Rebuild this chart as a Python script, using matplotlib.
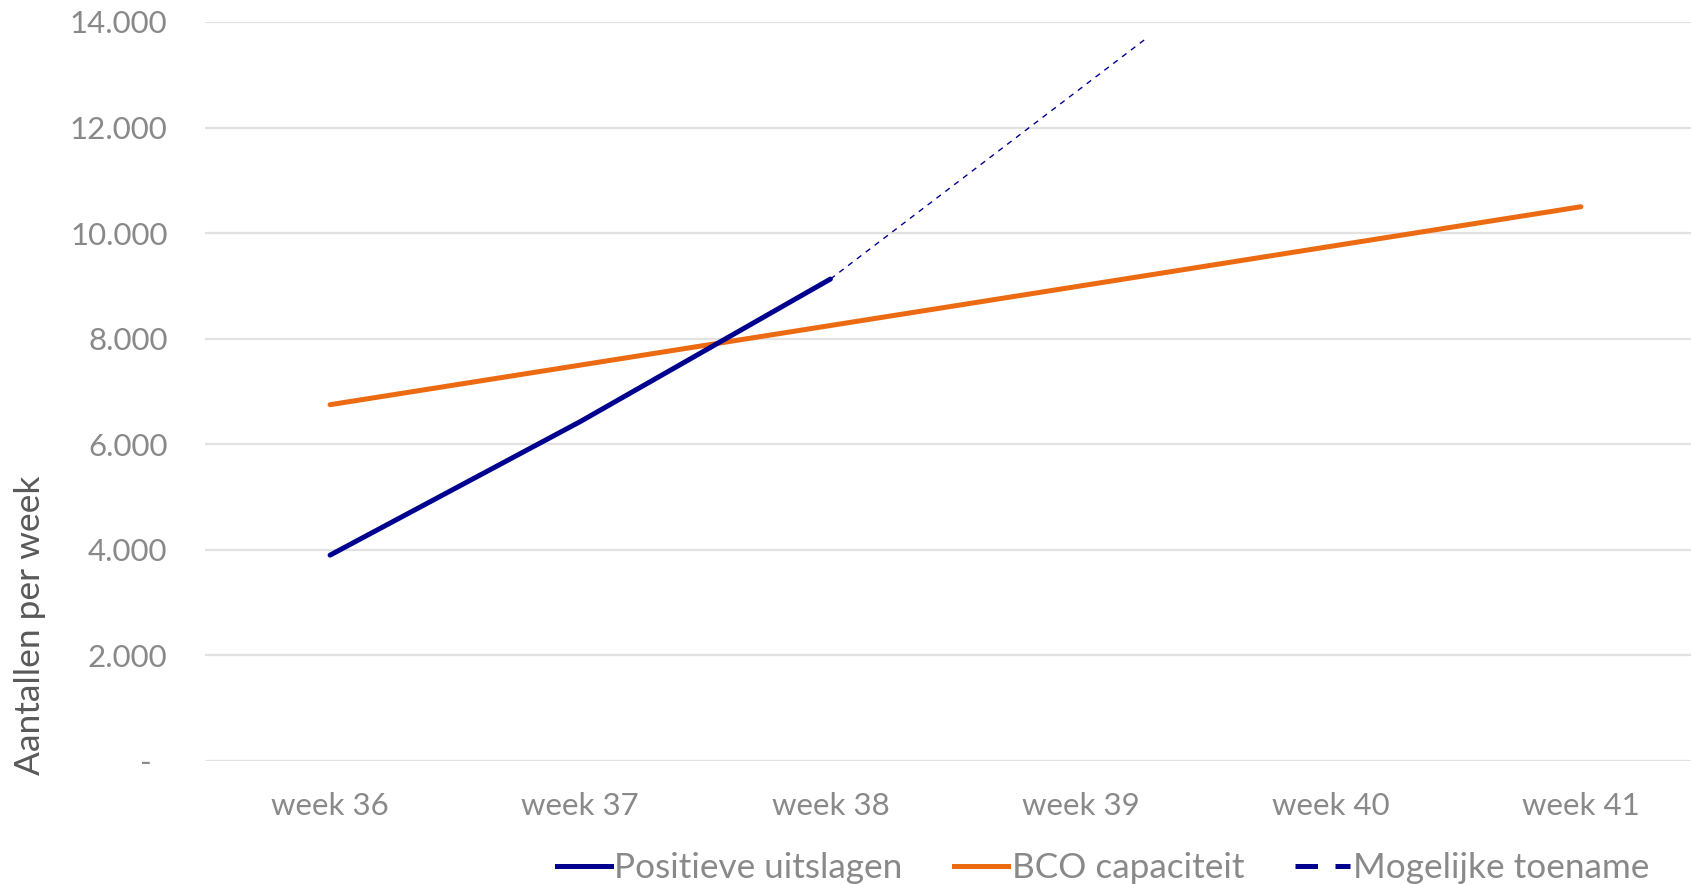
"""
Positieve uitslagen vs BCO capaciteit per week.
"""

import matplotlib
matplotlib.use("Agg")
import matplotlib.pyplot as plt
import matplotlib.ticker as mticker
from matplotlib.lines import Line2D

# ---------------------------------------------------------------------------
# Data
# ---------------------------------------------------------------------------

weeks = ["week 36", "week 37", "week 38", "week 39", "week 40", "week 41"]
positief = [3900, 6430, 9130]
bco_capaciteit = [6750, 7500, 8250, 9000, 9750, 10500]
# dashed extrapolation: starts at week 38, ends a bit past week 39
toename_x = [2, 3.26]
toename_y = [9130, 13680]

BLUE = "#00008f"
ORANGE = "#ec6a12"
GREY_TXT = "#898989"
GRID = "#e2e2e2"

plt.rcParams["font.family"] = ["Lato", "DejaVu Sans"]

# ---------------------------------------------------------------------------
# Plot
# ---------------------------------------------------------------------------

fig = plt.figure(figsize=(16.91, 8.84), dpi=100)
ax = fig.add_axes([205 / 1691, 1 - 761 / 884, 1501 / 1691, (761 - 22) / 884])

x = list(range(len(weeks)))
ax.plot(x[:len(positief)], positief, color=BLUE, lw=3.6,
        solid_capstyle="round", zorder=3)
ax.plot(x, bco_capaciteit, color=ORANGE, lw=3.6,
        solid_capstyle="round", zorder=2)
ax.plot(toename_x, toename_y, color=BLUE, lw=1.0, dashes=(4, 4), zorder=3)

ax.set_xlim(-0.5, len(weeks) - 0.5)
ax.set_ylim(0, 14000)
ax.set_xticks(x)
ax.set_xticklabels(weeks)
ax.yaxis.set_major_locator(mticker.MultipleLocator(2000))
ax.yaxis.set_major_formatter(mticker.FuncFormatter(
    lambda v, _: "-  " if v == 0 else f"{int(v):,}".replace(",", ".")))

ax.grid(axis="y", color=GRID, lw=1.6)
ax.set_axisbelow(True)
for s in ax.spines.values():
    s.set_visible(False)
ax.tick_params(axis="both", length=0, labelsize=22.5, colors=GREY_TXT)
ax.tick_params(axis="y", pad=27)
ax.tick_params(axis="x", pad=22)

fig.text(30 / 1691, 1 - 625 / 884, "Aantallen per week", rotation=90,
         ha="center", va="center", fontsize=25.5, color="#595959")

handles = [
    Line2D([], [], color=BLUE, lw=3.6),
    Line2D([], [], color=ORANGE, lw=3.6),
    Line2D([], [], color=BLUE, lw=3.6, dashes=(4.5, 3.5)),
]
labels = ["Positieve uitslagen", "BCO capaciteit", "Mogelijke toename"]
fig.legend(handles, labels, loc="center", bbox_to_anchor=(1103 / 1691, 1 - 868 / 884),
           ncol=3, frameon=False, fontsize=25.3, labelcolor=GREY_TXT,
           handlelength=1.55, handletextpad=0.1, columnspacing=1.45)

fig.savefig("out.png", dpi=100)
